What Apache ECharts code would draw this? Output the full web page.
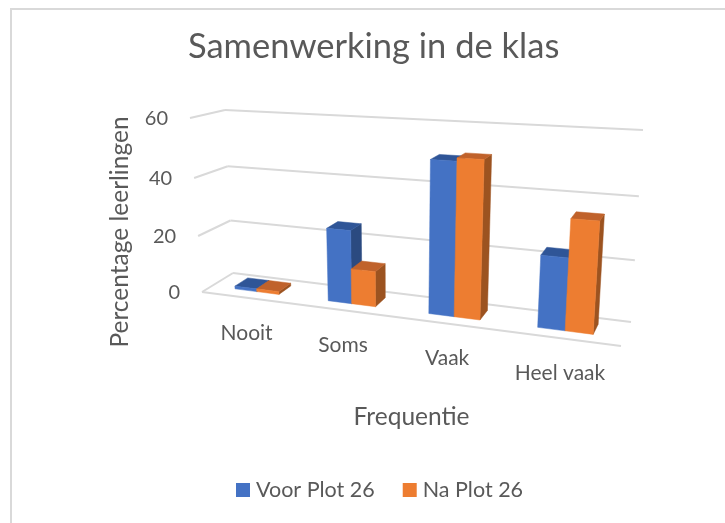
<!DOCTYPE html>
<html>
<head>
<meta charset="utf-8">
<title>Samenwerking in de klas</title>
<script src="https://cdn.jsdelivr.net/npm/echarts@6/dist/echarts.min.js"></script>
<style>
  html, body { margin: 0; padding: 0; background: #fff; }
  #main { width: 725px; height: 523px; }
</style>
</head>
<body>
<div id="main"></div>
<script>
var categories = ["Nooit", "Soms", "Vaak", "Heel vaak"];
var voorPlot = [1, 25, 50, 23];
var naPlot = [1, 12, 51, 35];
var yTicks = [0, 20, 40, 60];

var textColor = "#595959";
var gridColor = "#d9d9d9";
var font = "Lato";

// hoekpunten van de 3D-doos op het scherm
var frontLeft0 = [202, 292], frontLeft1 = [190, 118];
var frontRight0 = [621, 346], frontRight1 = [635, 141];
var backLeft0 = [233, 273], backLeft1 = [225, 110];
var backRight0 = [631, 322], backRight1 = [643, 130];

var mix = function(a, b, t) {
  return [a[0] + (b[0] - a[0]) * t, a[1] + (b[1] - a[1]) * t];
};

// u, v, d tussen 0 en 1: breedte, hoogte, diepte (0 = voorkant)
var project = function(u, v, d) {
  var uw = u / (1.17 - 0.17 * u);
  var vw = v / (1.053 - 0.053 * v);
  var front = mix(mix(frontLeft0, frontRight0, uw), mix(frontLeft1, frontRight1, uw), vw);
  var back = mix(mix(backLeft0, backRight0, uw), mix(backLeft1, backRight1, uw), vw);
  return mix(front, back, d);
};

var toUnit = function(params, api, idx, value) {
  var cs = params.coordSys;
  var p = api.coord([idx, value]);
  return [(p[0] - cs.x) / cs.width, 1 - (p[1] - cs.y) / cs.height];
};

var poly = function(points, fill) {
  return { type: "polygon", shape: { points: points }, style: { fill: fill, stroke: fill, lineWidth: 0.5 } };
};

var depthFront = 0.32, depthBack = 0.75, barShare = 0.24;

var barRenderer = function(slot, frontColor, topColor, sideColor) {
  return function(params, api) {
    var idx = api.value(0);
    var top = toUnit(params, api, idx, api.value(1));
    var bandU = api.size([1, 0])[0] / params.coordSys.width;
    var u0 = top[0] + (slot - 1) * bandU * barShare;
    var u1 = u0 + bandU * barShare;
    var v = top[1];
    var fb0 = project(u0, 0, depthFront), fb1 = project(u1, 0, depthFront);
    var ft0 = project(u0, v, depthFront), ft1 = project(u1, v, depthFront);
    var bb1 = project(u1, 0, depthBack);
    var bt0 = project(u0, v, depthBack), bt1 = project(u1, v, depthBack);
    return {
      type: "group",
      children: [
        poly([ft1, bt1, bb1, fb1], sideColor),
        poly([ft0, bt0, bt1, ft1], topColor),
        poly([fb0, ft0, ft1, fb1], frontColor)
      ]
    };
  };
};

var line = function(a, b) {
  return {
    type: "line",
    shape: { x1: a[0], y1: a[1], x2: b[0], y2: b[1] },
    style: { stroke: gridColor, lineWidth: 2 }
  };
};

var label = function(text, p, align, size) {
  return {
    type: "text",
    style: { text: text, x: p[0], y: p[1], fill: textColor, font: size + "px " + font, align: align, verticalAlign: "middle" }
  };
};

var renderGridLine = function(params, api) {
  var value = api.value(1);
  var v = toUnit(params, api, 0, value)[1];
  var a = project(0, v, 0), b = project(0, v, 1), c = project(1, v, 1);
  var children = [line(a, b), line(b, c), label(String(value), [a[0] - 22, a[1] + 1], "right", 20)];
  if (value === 0) {
    children.push(line(a, project(1, 0, 0)));
  }
  return { type: "group", children: children };
};

var renderCategoryLabel = function(params, api) {
  var idx = api.value(0);
  var u = toUnit(params, api, idx, 0)[0];
  var p = project(u, 0, 0);
  return label(categories[idx], [p[0] - 1, p[1] + 35], "center", 21);
};

var pairs = function(values) {
  return values.map(function(v, i) { return [i, v]; });
};

var chart = echarts.init(document.getElementById("main"));
chart.setOption({
  animation: false,
  backgroundColor: "#fff",
  title: {
    text: "Samenwerking in de klas",
    left: 188,
    top: 29,
    padding: 0,
    textStyle: { color: textColor, fontFamily: font, fontSize: 34.5, fontWeight: "normal" }
  },
  legend: {
    data: ["Voor Plot 26", "Na Plot 26"],
    top: 474,
    left: 231,
    icon: "rect",
    itemWidth: 14,
    itemHeight: 14,
    itemGap: 28,
    textStyle: { color: textColor, fontFamily: font, fontSize: 21.5, padding: [0, 0, 0, 1] }
  },
  grid: { left: 202, right: 104, top: 118, bottom: 177 },
  xAxis: {
    type: "category",
    data: categories,
    name: "Frequentie",
    nameLocation: "middle",
    nameGap: 59,
    nameTextStyle: { color: textColor, fontFamily: font, fontSize: 24.5 },
    axisLine: { show: false },
    axisTick: { show: false },
    axisLabel: { show: false },
    splitLine: { show: false }
  },
  yAxis: {
    type: "value",
    min: 0,
    max: 60,
    interval: 20,
    name: "Percentage leerlingen",
    nameLocation: "middle",
    nameGap: 69,
    nameTextStyle: { color: textColor, fontFamily: font, fontSize: 24.5 },
    axisLine: { show: false },
    axisTick: { show: false },
    axisLabel: { show: false },
    splitLine: { show: false }
  },
  graphic: [{
    type: "rect",
    shape: { x: 11, y: 9, width: 730, height: 530 },
    style: { fill: "none", stroke: gridColor, lineWidth: 2 },
    silent: true,
    z: -1
  }],
  series: [
    {
      type: "custom",
      silent: true,
      clip: false,
      renderItem: renderGridLine,
      encode: { x: 0, y: 1 },
      data: yTicks.map(function(t) { return [0, t]; })
    },
    {
      type: "custom",
      silent: true,
      clip: false,
      renderItem: renderCategoryLabel,
      encode: { x: 0, y: 1 },
      data: categories.map(function(c, i) { return [i, 0]; })
    },
    {
      name: "Voor Plot 26",
      type: "custom",
      clip: false,
      itemStyle: { color: "#4472c4" },
      renderItem: barRenderer(0, "#4472c4", "#2f5597", "#2b4a80"),
      encode: { x: 0, y: 1 },
      data: pairs(voorPlot)
    },
    {
      name: "Na Plot 26",
      type: "custom",
      clip: false,
      itemStyle: { color: "#ed7d31" },
      renderItem: barRenderer(1, "#ed7d31", "#c0622b", "#9c5320"),
      encode: { x: 0, y: 1 },
      data: pairs(naPlot)
    }
  ]
});
</script>
</body>
</html>
